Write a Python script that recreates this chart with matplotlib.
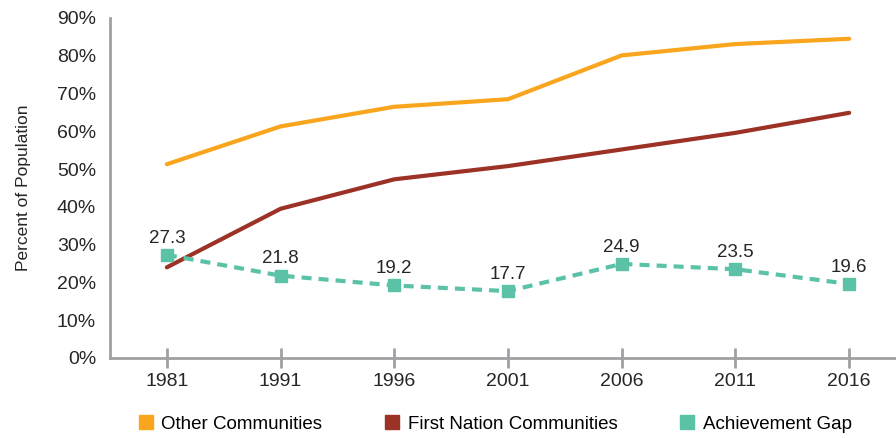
import matplotlib
matplotlib.use("Agg")
from matplotlib import pyplot as plt
from matplotlib.lines import Line2D

years = ['1981', '1991', '1996', '2001', '2006', '2011', '2016']
first_nation = [24.0, 39.5, 47.3, 50.8, 55.2, 59.6, 64.9]
other = [51.3, 61.3, 66.5, 68.5, 80.1, 83.1, 84.5]
gap = [27.3, 21.8, 19.2, 17.7, 24.9, 23.5, 19.6]
yticks = [0, 10, 20, 30, 40, 50, 60, 70, 80, 90]

c_other = '#F9A51E'
c_fn = '#9C3226'
c_gap = '#5BC2A8'

plt.rcParams['font.family'] = ['Liberation Sans', 'DejaVu Sans']

fig = plt.figure(figsize=(8.96, 4.38), dpi=100)
ax = fig.add_axes([110/896, 1-358/438, 796/896, 340/438])

x = list(range(len(years)))
ax.plot(x, other, color=c_other, lw=3, solid_capstyle='round')
ax.plot(x, first_nation, color=c_fn, lw=3, solid_capstyle='round')
ax.plot(x, gap, color=c_gap, lw=3, ls=(0, (2.4, 1.7)), marker='s', ms=8.5, mec=c_gap, mfc=c_gap)
for i, v in enumerate(gap):
    ax.annotate('%.1f' % v, (i, v), xytext=(0, 6), textcoords='offset points',
                ha='center', va='bottom', fontsize=13.5, color='#262626')

ax.set_xlim(-0.5, 6.5)
ax.set_ylim(0, 90)
ax.set_xticks(x)
ax.set_xticklabels(years)
ax.set_yticks(yticks)
ax.set_yticklabels(['%d%%' % t for t in yticks])
ax.tick_params(axis='y', length=0, pad=10, labelsize=14, labelcolor='#262626')
ax.tick_params(axis='x', direction='inout', length=14, width=2, color='#A0A0A4',
               pad=4, labelsize=14, labelcolor='#262626')
for s in ['top', 'right']:
    ax.spines[s].set_visible(False)
for s in ['left', 'bottom']:
    ax.spines[s].set_color('#A0A0A4')
    ax.spines[s].set_linewidth(2)
ax.set_ylabel('Percent of Population', fontsize=12.5, color='#262626')
ax.yaxis.set_label_coords(-0.099, 0.5)

handles = [Line2D([], [], ls='none', marker='s', ms=10, color=c) for c in (c_other, c_fn, c_gap)]
fig.legend(handles, ['Other Communities', 'First Nation Communities', 'Achievement Gap'],
           loc='center', bbox_to_anchor=(494/896, 1-424/438), ncol=3, frameon=False,
           fontsize=13.5, handletextpad=0.35, columnspacing=3.2, handlelength=1,
           borderpad=0, borderaxespad=0)

fig.savefig('out.png', dpi=100)
